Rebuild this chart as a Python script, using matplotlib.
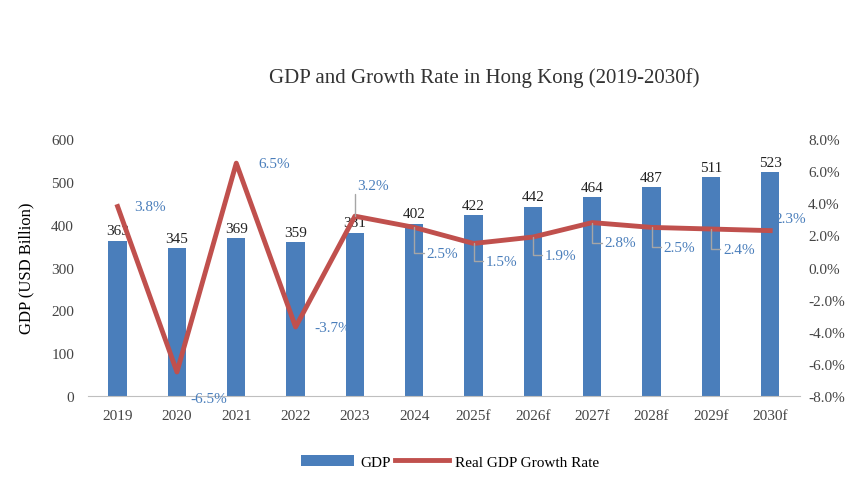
import matplotlib.pyplot as plt

plt.rcParams['font.family'] = ['Liberation Serif', 'DejaVu Serif']

years = ['2019', '2020', '2021', '2022', '2023', '2024', '2025f', '2026f',
         '2027f', '2028f', '2029f', '2030f']
gdp = [363, 345, 369, 359, 381, 402, 422, 442, 464, 487, 511, 523]
growth = [3.8, -6.5, 6.5, -3.7, 3.2, 2.5, 1.5, 1.9, 2.8, 2.5, 2.4, 2.3]

# label offsets in pixels (dx, dy) and whether a leader line is drawn
offsets = [(32, 0, False), (32, -27, False), (38, 0, False), (37, 0, False),
           (18, 31, True), (28, -26, True), (28, -18, True), (28, -18, True),
           (28, -20, True), (28, -20, True), (28, -20, True), (20, 12, False)]

bar_c = '#4a7ebb'
line_c = '#c0504d'

fig = plt.figure(figsize=(8.65, 5.02), dpi=100)
ax = fig.add_axes([0.1017, 0.209, 0.823, 0.512])
x = range(len(years))
ax.bar(x, gdp, width=0.31, color=bar_c, label='GDP', zorder=2)
for i, v in enumerate(gdp):
    ax.text(i, v + 8, str(v), ha='center', va='bottom', fontsize=11, color='#222222')
ax.set_ylim(0, 600)
ax.set_xlim(-0.5, len(years) - 0.5)
ax.set_xticks(list(x))
ax.set_xticklabels(years)
ax.set_ylabel('GDP (USD Billion)', fontsize=12, labelpad=12)
ax.tick_params(length=0, labelsize=11, colors='#444444')
ax.tick_params(axis='x', pad=9)
ax.tick_params(axis='y', pad=10)
for s in ['top', 'right', 'left']:
    ax.spines[s].set_visible(False)
ax.spines['bottom'].set_color('#bfbfbf')

ax2 = ax.twinx()
ax2.plot(x, growth, color=line_c, lw=3.5, label='Real GDP Growth Rate', zorder=3)
ax2.set_ylim(-8, 8)
ax2.set_yticks(range(-8, 9, 2))
ax2.set_yticklabels([f'{v:.1f}%' for v in range(-8, 9, 2)])
ax2.tick_params(length=0, labelsize=11, colors='#444444', pad=6)
for s in ax2.spines.values():
    s.set_visible(False)
for i, g in enumerate(growth):
    dx, dy, lead = offsets[i]
    kw = {}
    if lead:
        kw['arrowprops'] = dict(arrowstyle='-', color='#a6a6a6', lw=1,
                                connectionstyle='angle,angleA=0,angleB=90,rad=0',
                                shrinkA=0, shrinkB=0)
    ax2.annotate(f'{g}%', (i, g), xytext=(dx, dy), textcoords='offset pixels',
                 ha='center', va='center', fontsize=11, color=bar_c, **kw)

fig.text(0.56, 0.835, 'GDP and Growth Rate in Hong Kong (2019-2030f)',
         ha='center', fontsize=15, color='#333333')
h1, l1 = ax.get_legend_handles_labels()
h2, l2 = ax2.get_legend_handles_labels()
fig.legend(h1 + h2, l1 + l2, loc='center', bbox_to_anchor=(0.52, 0.078), ncol=2,
           frameon=False, fontsize=11, handlelength=3.5, columnspacing=0.3,
           handletextpad=0.4)
fig.savefig('out.png', dpi=100)
